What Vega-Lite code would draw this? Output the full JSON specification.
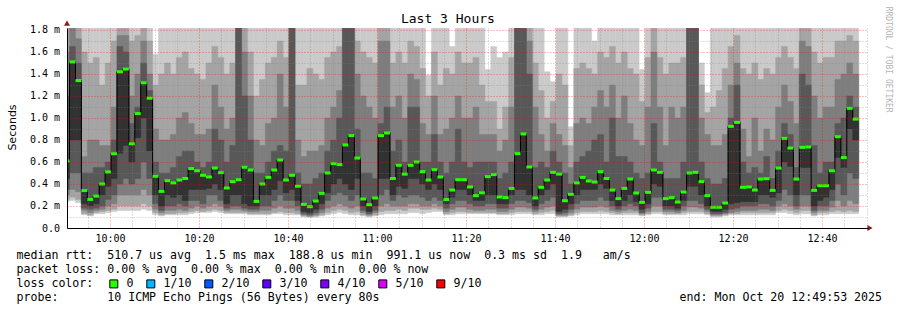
{
"$schema": "https://vega.github.io/schema/vega-lite/v6.json",
"width": 801, "height": 200,
"autosize": {"type": "none"},
"padding": {"left": 67, "top": 28, "right": 29, "bottom": 82},
"background": "white",
"config": {"view": {"stroke": null}, "font": "DejaVu Sans Mono", "axis": {"labelOverlap": false}},
"datasets": {"smoke": [
{"t":"2025-10-20T09:49:34","loss":"0","p1":0.24,"p2":0.26,"p3":0.3,"p4":0.35,"p5":0.45,"m":0.61,"p7":1.2,"p8":1.6,"p9":1.82,"p10":2},
{"t":"2025-10-20T09:50:54","loss":"0","p1":0.25,"p2":0.28,"p3":0.35,"p4":0.5,"p5":0.8,"m":1.51,"p7":1.65,"p8":1.82,"p9":2,"p10":2},
{"t":"2025-10-20T09:52:14","loss":"0","p1":0.23,"p2":0.26,"p3":0.33,"p4":0.5,"p5":0.8,"m":1.34,"p7":1.5,"p8":1.72,"p9":1.82,"p10":2},
{"t":"2025-10-20T09:53:34","loss":"0","p1":0.12,"p2":0.13,"p3":0.16,"p4":0.18,"p5":0.22,"m":0.34,"p7":0.5,"p8":0.65,"p9":1.6,"p10":2},
{"t":"2025-10-20T09:54:54","loss":"0","p1":0.11,"p2":0.12,"p3":0.14,"p4":0.17,"p5":0.2,"m":0.26,"p7":0.5,"p8":0.8,"p9":1.5,"p10":2},
{"t":"2025-10-20T09:56:14","loss":"0","p1":0.13,"p2":0.14,"p3":0.16,"p4":0.18,"p5":0.22,"m":0.29,"p7":0.55,"p8":0.8,"p9":1.55,"p10":2},
{"t":"2025-10-20T09:57:34","loss":"0","p1":0.13,"p2":0.15,"p3":0.17,"p4":0.2,"p5":0.3,"m":0.40,"p7":0.55,"p8":0.75,"p9":1.3,"p10":2},
{"t":"2025-10-20T09:58:54","loss":"0","p1":0.14,"p2":0.16,"p3":0.2,"p4":0.26,"p5":0.38,"m":0.51,"p7":0.6,"p8":0.75,"p9":1.5,"p10":2},
{"t":"2025-10-20T10:00:14","loss":"0","p1":0.15,"p2":0.17,"p3":0.22,"p4":0.3,"p5":0.45,"m":0.675,"p7":0.8,"p8":1.1,"p9":1.7,"p10":2},
{"t":"2025-10-20T10:01:34","loss":"0","p1":0.16,"p2":0.2,"p3":0.3,"p4":0.4,"p5":0.68,"m":1.42,"p7":1.65,"p8":1.75,"p9":1.82,"p10":2},
{"t":"2025-10-20T10:02:54","loss":"0","p1":0.16,"p2":0.2,"p3":0.3,"p4":0.45,"p5":0.75,"m":1.445,"p7":1.6,"p8":1.75,"p9":1.82,"p10":2},
{"t":"2025-10-20T10:04:14","loss":"0","p1":0.16,"p2":0.2,"p3":0.3,"p4":0.4,"p5":0.6,"m":0.766,"p7":0.95,"p8":1.2,"p9":1.7,"p10":2},
{"t":"2025-10-20T10:05:34","loss":"0","p1":0.16,"p2":0.2,"p3":0.3,"p4":0.45,"p5":0.82,"m":1.04,"p7":1.1,"p8":1.4,"p9":1.75,"p10":2},
{"t":"2025-10-20T10:06:54","loss":"0","p1":0.17,"p2":0.22,"p3":0.35,"p4":0.6,"p5":1.0,"m":1.32,"p7":1.5,"p8":1.7,"p9":1.82,"p10":2},
{"t":"2025-10-20T10:08:14","loss":"0","p1":0.16,"p2":0.2,"p3":0.3,"p4":0.45,"p5":0.7,"m":1.18,"p7":1.25,"p8":1.4,"p9":1.7,"p10":2},
{"t":"2025-10-20T10:09:34","loss":"0","p1":0.12,"p2":0.14,"p3":0.17,"p4":0.22,"p5":0.3,"m":0.47,"p7":0.6,"p8":0.9,"p9":1.3,"p10":1.58},
{"t":"2025-10-20T10:10:54","loss":"0","p1":0.11,"p2":0.12,"p3":0.14,"p4":0.16,"p5":0.2,"m":0.333,"p7":0.5,"p8":0.8,"p9":1.4,"p10":2},
{"t":"2025-10-20T10:12:14","loss":"0","p1":0.12,"p2":0.13,"p3":0.16,"p4":0.2,"p5":0.3,"m":0.43,"p7":0.5,"p8":0.8,"p9":1.5,"p10":2},
{"t":"2025-10-20T10:13:34","loss":"0","p1":0.12,"p2":0.13,"p3":0.16,"p4":0.2,"p5":0.28,"m":0.41,"p7":0.55,"p8":0.85,"p9":1.4,"p10":2},
{"t":"2025-10-20T10:14:54","loss":"0","p1":0.12,"p2":0.14,"p3":0.17,"p4":0.22,"p5":0.3,"m":0.436,"p7":0.65,"p8":1.0,"p9":1.55,"p10":2},
{"t":"2025-10-20T10:16:14","loss":"0","p1":0.12,"p2":0.14,"p3":0.16,"p4":0.2,"p5":0.25,"m":0.45,"p7":0.7,"p8":1.05,"p9":1.6,"p10":2},
{"t":"2025-10-20T10:17:34","loss":"0","p1":0.13,"p2":0.15,"p3":0.18,"p4":0.25,"p5":0.35,"m":0.54,"p7":0.7,"p8":0.95,"p9":1.45,"p10":2},
{"t":"2025-10-20T10:18:54","loss":"0","p1":0.14,"p2":0.16,"p3":0.2,"p4":0.25,"p5":0.35,"m":0.52,"p7":0.6,"p8":0.85,"p9":1.4,"p10":2},
{"t":"2025-10-20T10:20:14","loss":"0","p1":0.14,"p2":0.15,"p3":0.18,"p4":0.22,"p5":0.35,"m":0.479,"p7":0.55,"p8":0.85,"p9":1.35,"p10":2},
{"t":"2025-10-20T10:21:34","loss":"0","p1":0.14,"p2":0.16,"p3":0.2,"p4":0.3,"p5":0.36,"m":0.464,"p7":0.6,"p8":0.9,"p9":1.5,"p10":2},
{"t":"2025-10-20T10:22:54","loss":"0","p1":0.15,"p2":0.17,"p3":0.22,"p4":0.3,"p5":0.4,"m":0.545,"p7":0.9,"p8":1.3,"p9":1.65,"p10":2},
{"t":"2025-10-20T10:24:14","loss":"0","p1":0.14,"p2":0.16,"p3":0.2,"p4":0.25,"p5":0.35,"m":0.503,"p7":0.8,"p8":1.1,"p9":1.55,"p10":2},
{"t":"2025-10-20T10:25:34","loss":"0","p1":0.13,"p2":0.14,"p3":0.16,"p4":0.18,"p5":0.22,"m":0.364,"p7":0.6,"p8":0.9,"p9":1.4,"p10":2},
{"t":"2025-10-20T10:26:54","loss":"0","p1":0.13,"p2":0.14,"p3":0.17,"p4":0.2,"p5":0.3,"m":0.421,"p7":0.75,"p8":1.0,"p9":1.5,"p10":2},
{"t":"2025-10-20T10:28:14","loss":"0","p1":0.13,"p2":0.14,"p3":0.17,"p4":0.2,"p5":0.3,"m":0.439,"p7":1.9,"p8":2,"p9":2,"p10":2},
{"t":"2025-10-20T10:29:34","loss":"0","p1":0.13,"p2":0.14,"p3":0.16,"p4":0.18,"p5":0.22,"m":0.552,"p7":1.2,"p8":1.6,"p9":1.82,"p10":2},
{"t":"2025-10-20T10:30:54","loss":"0","p1":0.12,"p2":0.13,"p3":0.15,"p4":0.17,"p5":0.2,"m":0.527,"p7":0.8,"p8":1.2,"p9":1.6,"p10":2},
{"t":"2025-10-20T10:32:14","loss":"0","p1":0.12,"p2":0.13,"p3":0.15,"p4":0.17,"p5":0.2,"m":0.242,"p7":0.5,"p8":0.8,"p9":1.2,"p10":2},
{"t":"2025-10-20T10:33:34","loss":"0","p1":0.12,"p2":0.13,"p3":0.16,"p4":0.2,"p5":0.3,"m":0.40,"p7":0.5,"p8":0.75,"p9":1.35,"p10":2},
{"t":"2025-10-20T10:34:54","loss":"0","p1":0.12,"p2":0.13,"p3":0.16,"p4":0.2,"p5":0.3,"m":0.46,"p7":0.6,"p8":0.95,"p9":1.5,"p10":2},
{"t":"2025-10-20T10:36:14","loss":"0","p1":0.13,"p2":0.14,"p3":0.18,"p4":0.25,"p5":0.35,"m":0.527,"p7":0.7,"p8":1.0,"p9":1.55,"p10":2},
{"t":"2025-10-20T10:37:34","loss":"0","p1":0.13,"p2":0.15,"p3":0.2,"p4":0.3,"p5":0.43,"m":0.618,"p7":0.75,"p8":1.4,"p9":1.7,"p10":2},
{"t":"2025-10-20T10:38:54","loss":"0","p1":0.12,"p2":0.14,"p3":0.18,"p4":0.25,"p5":0.32,"m":0.436,"p7":0.7,"p8":1.1,"p9":1.55,"p10":2},
{"t":"2025-10-20T10:40:14","loss":"0","p1":0.12,"p2":0.14,"p3":0.18,"p4":0.25,"p5":0.35,"m":0.479,"p7":1.9,"p8":2,"p9":2,"p10":2},
{"t":"2025-10-20T10:41:34","loss":"0","p1":0.12,"p2":0.13,"p3":0.16,"p4":0.2,"p5":0.25,"m":0.38,"p7":0.5,"p8":0.8,"p9":1.3,"p10":2},
{"t":"2025-10-20T10:42:54","loss":"0","p1":0.10,"p2":0.11,"p3":0.12,"p4":0.13,"p5":0.15,"m":0.215,"p7":0.4,"p8":0.65,"p9":1.3,"p10":2},
{"t":"2025-10-20T10:44:14","loss":"0","p1":0.10,"p2":0.10,"p3":0.11,"p4":0.12,"p5":0.14,"m":0.194,"p7":0.4,"p8":0.7,"p9":1.45,"p10":2},
{"t":"2025-10-20T10:45:34","loss":"0","p1":0.10,"p2":0.11,"p3":0.12,"p4":0.14,"p5":0.17,"m":0.245,"p7":0.45,"p8":0.7,"p9":1.4,"p10":2},
{"t":"2025-10-20T10:46:54","loss":"0","p1":0.11,"p2":0.12,"p3":0.14,"p4":0.17,"p5":0.22,"m":0.315,"p7":0.5,"p8":0.75,"p9":1.35,"p10":2},
{"t":"2025-10-20T10:48:14","loss":"0","p1":0.12,"p2":0.14,"p3":0.18,"p4":0.25,"p5":0.32,"m":0.50,"p7":0.7,"p8":1.0,"p9":1.55,"p10":2},
{"t":"2025-10-20T10:49:34","loss":"0","p1":0.13,"p2":0.16,"p3":0.2,"p4":0.3,"p5":0.4,"m":0.585,"p7":0.8,"p8":1.1,"p9":1.6,"p10":2},
{"t":"2025-10-20T10:50:54","loss":"0","p1":0.14,"p2":0.17,"p3":0.22,"p4":0.32,"p5":0.45,"m":0.576,"p7":1.0,"p8":1.25,"p9":1.65,"p10":2},
{"t":"2025-10-20T10:52:14","loss":"0","p1":0.13,"p2":0.16,"p3":0.2,"p4":0.3,"p5":0.4,"m":0.755,"p7":2,"p8":2,"p9":2,"p10":2},
{"t":"2025-10-20T10:53:34","loss":"0","p1":0.12,"p2":0.14,"p3":0.18,"p4":0.25,"p5":0.35,"m":0.84,"p7":1.9,"p8":2,"p9":2,"p10":2},
{"t":"2025-10-20T10:54:54","loss":"0","p1":0.12,"p2":0.15,"p3":0.2,"p4":0.3,"p5":0.45,"m":0.636,"p7":0.9,"p8":1.4,"p9":1.7,"p10":2},
{"t":"2025-10-20T10:56:14","loss":"0","p1":0.11,"p2":0.12,"p3":0.14,"p4":0.16,"p5":0.2,"m":0.264,"p7":0.5,"p8":1.2,"p9":1.6,"p10":2},
{"t":"2025-10-20T10:57:34","loss":"0","p1":0.10,"p2":0.11,"p3":0.12,"p4":0.13,"p5":0.15,"m":0.212,"p7":0.5,"p8":1.1,"p9":1.55,"p10":2},
{"t":"2025-10-20T10:58:54","loss":"0","p1":0.11,"p2":0.12,"p3":0.14,"p4":0.16,"p5":0.2,"m":0.273,"p7":0.45,"p8":1.0,"p9":1.5,"p10":2},
{"t":"2025-10-20T11:00:14","loss":"0","p1":0.12,"p2":0.15,"p3":0.2,"p4":0.3,"p5":0.45,"m":0.84,"p7":0.95,"p8":1.7,"p9":1.82,"p10":2},
{"t":"2025-10-20T11:01:34","loss":"0","p1":0.13,"p2":0.16,"p3":0.22,"p4":0.35,"p5":0.45,"m":0.864,"p7":1.1,"p8":1.7,"p9":1.82,"p10":2},
{"t":"2025-10-20T11:02:54","loss":"0","p1":0.13,"p2":0.16,"p3":0.2,"p4":0.25,"p5":0.3,"m":0.45,"p7":0.7,"p8":1.1,"p9":1.5,"p10":2},
{"t":"2025-10-20T11:04:14","loss":"0","p1":0.13,"p2":0.17,"p3":0.2,"p4":0.3,"p5":0.38,"m":0.57,"p7":0.8,"p8":1.2,"p9":1.6,"p10":2},
{"t":"2025-10-20T11:05:34","loss":"0","p1":0.13,"p2":0.16,"p3":0.2,"p4":0.28,"p5":0.36,"m":0.49,"p7":0.6,"p8":1.0,"p9":1.5,"p10":2},
{"t":"2025-10-20T11:06:54","loss":"0","p1":0.14,"p2":0.18,"p3":0.22,"p4":0.3,"p5":0.45,"m":0.57,"p7":1.1,"p8":1.4,"p9":1.7,"p10":2},
{"t":"2025-10-20T11:08:14","loss":"0","p1":0.14,"p2":0.18,"p3":0.22,"p4":0.3,"p5":0.45,"m":0.60,"p7":1.1,"p8":1.35,"p9":1.65,"p10":2},
{"t":"2025-10-20T11:09:34","loss":"0","p1":0.13,"p2":0.17,"p3":0.2,"p4":0.28,"p5":0.4,"m":0.512,"p7":0.6,"p8":0.95,"p9":1.45,"p10":2},
{"t":"2025-10-20T11:10:54","loss":"0","p1":0.14,"p2":0.17,"p3":0.2,"p4":0.25,"p5":0.35,"m":0.436,"p7":0.6,"p8":0.85,"p9":1.2,"p10":1.39},
{"t":"2025-10-20T11:12:14","loss":"0","p1":0.15,"p2":0.18,"p3":0.22,"p4":0.28,"p5":0.4,"m":0.53,"p7":0.85,"p8":1.2,"p9":1.6,"p10":2},
{"t":"2025-10-20T11:13:34","loss":"0","p1":0.15,"p2":0.17,"p3":0.2,"p4":0.25,"p5":0.35,"m":0.464,"p7":0.6,"p8":0.85,"p9":1.3,"p10":1.82},
{"t":"2025-10-20T11:14:54","loss":"0","p1":0.12,"p2":0.13,"p3":0.15,"p4":0.18,"p5":0.22,"m":0.258,"p7":0.5,"p8":0.9,"p9":1.45,"p10":2},
{"t":"2025-10-20T11:16:14","loss":"0","p1":0.12,"p2":0.14,"p3":0.17,"p4":0.22,"p5":0.28,"m":0.345,"p7":0.6,"p8":1.0,"p9":1.4,"p10":1.65},
{"t":"2025-10-20T11:17:34","loss":"0","p1":0.13,"p2":0.15,"p3":0.19,"p4":0.25,"p5":0.35,"m":0.439,"p7":0.9,"p8":1.2,"p9":1.6,"p10":2},
{"t":"2025-10-20T11:18:54","loss":"0","p1":0.13,"p2":0.15,"p3":0.19,"p4":0.25,"p5":0.35,"m":0.439,"p7":0.6,"p8":1.0,"p9":1.5,"p10":2},
{"t":"2025-10-20T11:20:14","loss":"0","p1":0.13,"p2":0.14,"p3":0.17,"p4":0.22,"p5":0.3,"m":0.373,"p7":0.55,"p8":1.0,"p9":1.5,"p10":2},
{"t":"2025-10-20T11:21:34","loss":"0","p1":0.13,"p2":0.14,"p3":0.16,"p4":0.2,"p5":0.25,"m":0.294,"p7":0.6,"p8":1.1,"p9":1.55,"p10":2},
{"t":"2025-10-20T11:22:54","loss":"0","p1":0.13,"p2":0.14,"p3":0.16,"p4":0.2,"p5":0.25,"m":0.32,"p7":0.6,"p8":0.85,"p9":1.3,"p10":2},
{"t":"2025-10-20T11:24:14","loss":"0","p1":0.13,"p2":0.14,"p3":0.17,"p4":0.22,"p5":0.3,"m":0.467,"p7":0.6,"p8":0.85,"p9":1.15,"p10":1.44},
{"t":"2025-10-20T11:25:34","loss":"0","p1":0.13,"p2":0.14,"p3":0.17,"p4":0.22,"p5":0.3,"m":0.485,"p7":0.6,"p8":0.85,"p9":1.15,"p10":1.65},
{"t":"2025-10-20T11:26:54","loss":"0","p1":0.12,"p2":0.13,"p3":0.15,"p4":0.18,"p5":0.22,"m":0.282,"p7":0.45,"p8":0.7,"p9":0.9,"p10":1.55},
{"t":"2025-10-20T11:28:14","loss":"0","p1":0.12,"p2":0.13,"p3":0.15,"p4":0.18,"p5":0.22,"m":0.276,"p7":0.5,"p8":0.8,"p9":1.1,"p10":1.6},
{"t":"2025-10-20T11:29:34","loss":"0","p1":0.12,"p2":0.14,"p3":0.17,"p4":0.22,"p5":0.3,"m":0.36,"p7":0.6,"p8":1.1,"p9":1.55,"p10":2},
{"t":"2025-10-20T11:30:54","loss":"0","p1":0.13,"p2":0.15,"p3":0.19,"p4":0.25,"p5":0.35,"m":0.676,"p7":1.9,"p8":2,"p9":2,"p10":2},
{"t":"2025-10-20T11:32:14","loss":"0","p1":0.13,"p2":0.15,"p3":0.19,"p4":0.25,"p5":0.35,"m":0.855,"p7":1.9,"p8":2,"p9":2,"p10":2},
{"t":"2025-10-20T11:33:34","loss":"0","p1":0.13,"p2":0.15,"p3":0.18,"p4":0.23,"p5":0.3,"m":0.555,"p7":1.4,"p8":1.7,"p9":1.82,"p10":2},
{"t":"2025-10-20T11:34:54","loss":"0","p1":0.12,"p2":0.13,"p3":0.15,"p4":0.17,"p5":0.2,"m":0.273,"p7":0.55,"p8":1.1,"p9":1.5,"p10":2},
{"t":"2025-10-20T11:36:14","loss":"0","p1":0.12,"p2":0.14,"p3":0.17,"p4":0.22,"p5":0.3,"m":0.37,"p7":0.6,"p8":0.85,"p9":1.25,"p10":2},
{"t":"2025-10-20T11:37:34","loss":"0","p1":0.13,"p2":0.15,"p3":0.19,"p4":0.25,"p5":0.35,"m":0.436,"p7":0.55,"p8":0.7,"p9":1.0,"p10":1.42},
{"t":"2025-10-20T11:38:54","loss":"0","p1":0.13,"p2":0.16,"p3":0.2,"p4":0.28,"p5":0.4,"m":0.506,"p7":0.7,"p8":0.95,"p9":1.15,"p10":1.33},
{"t":"2025-10-20T11:40:14","loss":"0","p1":0.10,"p2":0.11,"p3":0.12,"p4":0.13,"p5":0.15,"m":0.49,"p7":0.6,"p8":0.85,"p9":1.4,"p10":2},
{"t":"2025-10-20T11:41:34","loss":"0","p1":0.10,"p2":0.11,"p3":0.12,"p4":0.14,"p5":0.17,"m":0.248,"p7":0.5,"p8":0.75,"p9":1.3,"p10":2},
{"t":"2025-10-20T11:42:54","loss":"0","p1":0.11,"p2":0.12,"p3":0.14,"p4":0.17,"p5":0.22,"m":0.306,"p7":0.4,"p8":0.55,"p9":0.75,"p10":0.92},
{"t":"2025-10-20T11:44:14","loss":"0","p1":0.12,"p2":0.14,"p3":0.17,"p4":0.22,"p5":0.3,"m":0.41,"p7":0.6,"p8":0.95,"p9":1.45,"p10":2},
{"t":"2025-10-20T11:45:34","loss":"0","p1":0.13,"p2":0.15,"p3":0.19,"p4":0.25,"p5":0.35,"m":0.46,"p7":0.65,"p8":1.0,"p9":1.5,"p10":2},
{"t":"2025-10-20T11:46:54","loss":"0","p1":0.13,"p2":0.15,"p3":0.19,"p4":0.25,"p5":0.35,"m":0.427,"p7":0.7,"p8":0.95,"p9":1.45,"p10":2},
{"t":"2025-10-20T11:48:14","loss":"0","p1":0.13,"p2":0.15,"p3":0.19,"p4":0.25,"p5":0.35,"m":0.418,"p7":0.8,"p8":1.1,"p9":1.4,"p10":1.7},
{"t":"2025-10-20T11:49:34","loss":"0","p1":0.13,"p2":0.16,"p3":0.2,"p4":0.28,"p5":0.4,"m":0.512,"p7":0.85,"p8":1.25,"p9":1.6,"p10":2},
{"t":"2025-10-20T11:50:54","loss":"0","p1":0.13,"p2":0.15,"p3":0.19,"p4":0.25,"p5":0.36,"m":0.45,"p7":0.6,"p8":1.1,"p9":1.55,"p10":2},
{"t":"2025-10-20T11:52:14","loss":"0","p1":0.12,"p2":0.14,"p3":0.16,"p4":0.2,"p5":0.25,"m":0.345,"p7":1.0,"p8":1.3,"p9":1.65,"p10":2},
{"t":"2025-10-20T11:53:34","loss":"0","p1":0.12,"p2":0.13,"p3":0.15,"p4":0.17,"p5":0.2,"m":0.267,"p7":0.65,"p8":1.0,"p9":1.5,"p10":2},
{"t":"2025-10-20T11:54:54","loss":"0","p1":0.12,"p2":0.14,"p3":0.16,"p4":0.2,"p5":0.25,"m":0.36,"p7":0.65,"p8":1.2,"p9":1.6,"p10":2},
{"t":"2025-10-20T11:56:14","loss":"0","p1":0.12,"p2":0.14,"p3":0.17,"p4":0.22,"p5":0.3,"m":0.445,"p7":0.6,"p8":0.95,"p9":1.45,"p10":2},
{"t":"2025-10-20T11:57:34","loss":"0","p1":0.12,"p2":0.14,"p3":0.16,"p4":0.2,"p5":0.24,"m":0.318,"p7":0.5,"p8":0.8,"p9":1.4,"p10":2},
{"t":"2025-10-20T11:58:54","loss":"0","p1":0.11,"p2":0.12,"p3":0.13,"p4":0.14,"p5":0.17,"m":0.233,"p7":0.45,"p8":0.75,"p9":1.15,"p10":1.44},
{"t":"2025-10-20T12:00:14","loss":"0","p1":0.12,"p2":0.13,"p3":0.15,"p4":0.18,"p5":0.22,"m":0.324,"p7":0.5,"p8":1.1,"p9":1.55,"p10":2},
{"t":"2025-10-20T12:01:34","loss":"0","p1":0.13,"p2":0.15,"p3":0.2,"p4":0.28,"p5":0.4,"m":0.527,"p7":0.95,"p8":1.6,"p9":1.82,"p10":2},
{"t":"2025-10-20T12:02:54","loss":"0","p1":0.13,"p2":0.15,"p3":0.2,"p4":0.28,"p5":0.38,"m":0.506,"p7":0.6,"p8":1.1,"p9":1.55,"p10":2},
{"t":"2025-10-20T12:04:14","loss":"0","p1":0.12,"p2":0.13,"p3":0.15,"p4":0.17,"p5":0.2,"m":0.267,"p7":0.45,"p8":0.75,"p9":1.4,"p10":2},
{"t":"2025-10-20T12:05:34","loss":"0","p1":0.12,"p2":0.13,"p3":0.15,"p4":0.17,"p5":0.2,"m":0.276,"p7":0.45,"p8":1.1,"p9":1.5,"p10":2},
{"t":"2025-10-20T12:06:54","loss":"0","p1":0.12,"p2":0.13,"p3":0.14,"p4":0.16,"p5":0.18,"m":0.236,"p7":0.45,"p8":1.0,"p9":1.5,"p10":2},
{"t":"2025-10-20T12:08:14","loss":"0","p1":0.12,"p2":0.14,"p3":0.16,"p4":0.2,"p5":0.25,"m":0.327,"p7":0.6,"p8":1.1,"p9":1.55,"p10":2},
{"t":"2025-10-20T12:09:34","loss":"0","p1":0.13,"p2":0.15,"p3":0.19,"p4":0.25,"p5":0.38,"m":0.50,"p7":1.9,"p8":2,"p9":2,"p10":2},
{"t":"2025-10-20T12:10:54","loss":"0","p1":0.13,"p2":0.15,"p3":0.19,"p4":0.25,"p5":0.38,"m":0.506,"p7":1.9,"p8":2,"p9":2,"p10":2},
{"t":"2025-10-20T12:12:14","loss":"0","p1":0.13,"p2":0.15,"p3":0.18,"p4":0.22,"p5":0.3,"m":0.421,"p7":0.6,"p8":1.0,"p9":1.3,"p10":1.5},
{"t":"2025-10-20T12:13:34","loss":"0","p1":0.12,"p2":0.13,"p3":0.15,"p4":0.17,"p5":0.2,"m":0.294,"p7":0.45,"p8":0.85,"p9":1.05,"p10":1.23},
{"t":"2025-10-20T12:14:54","loss":"0","p1":0.10,"p2":0.11,"p3":0.12,"p4":0.13,"p5":0.15,"m":0.188,"p7":0.4,"p8":0.75,"p9":1.1,"p10":2},
{"t":"2025-10-20T12:16:14","loss":"0","p1":0.10,"p2":0.11,"p3":0.12,"p4":0.13,"p5":0.15,"m":0.188,"p7":0.4,"p8":0.75,"p9":1.25,"p10":2},
{"t":"2025-10-20T12:17:34","loss":"0","p1":0.11,"p2":0.12,"p3":0.13,"p4":0.14,"p5":0.17,"m":0.227,"p7":0.45,"p8":0.85,"p9":1.45,"p10":2},
{"t":"2025-10-20T12:18:54","loss":"0","p1":0.12,"p2":0.13,"p3":0.14,"p4":0.17,"p5":0.22,"m":0.924,"p7":1.0,"p8":1.3,"p9":1.65,"p10":2},
{"t":"2025-10-20T12:20:14","loss":"0","p1":0.12,"p2":0.13,"p3":0.15,"p4":0.18,"p5":0.23,"m":0.96,"p7":1.3,"p8":1.5,"p9":1.75,"p10":2},
{"t":"2025-10-20T12:21:34","loss":"0","p1":0.12,"p2":0.14,"p3":0.16,"p4":0.2,"p5":0.24,"m":0.37,"p7":0.6,"p8":0.9,"p9":1.45,"p10":2},
{"t":"2025-10-20T12:22:54","loss":"0","p1":0.12,"p2":0.14,"p3":0.16,"p4":0.2,"p5":0.24,"m":0.373,"p7":0.5,"p8":0.65,"p9":1.4,"p10":2},
{"t":"2025-10-20T12:24:14","loss":"0","p1":0.12,"p2":0.14,"p3":0.16,"p4":0.2,"p5":0.24,"m":0.345,"p7":0.55,"p8":1.0,"p9":1.5,"p10":2},
{"t":"2025-10-20T12:25:34","loss":"0","p1":0.12,"p2":0.14,"p3":0.17,"p4":0.22,"p5":0.3,"m":0.445,"p7":0.5,"p8":0.7,"p9":1.35,"p10":2},
{"t":"2025-10-20T12:26:54","loss":"0","p1":0.12,"p2":0.14,"p3":0.17,"p4":0.22,"p5":0.3,"m":0.448,"p7":0.65,"p8":0.9,"p9":1.45,"p10":2},
{"t":"2025-10-20T12:28:14","loss":"0","p1":0.12,"p2":0.14,"p3":0.16,"p4":0.2,"p5":0.28,"m":0.342,"p7":0.45,"p8":0.8,"p9":1.4,"p10":2},
{"t":"2025-10-20T12:29:34","loss":"0","p1":0.14,"p2":0.16,"p3":0.2,"p4":0.25,"p5":0.32,"m":0.545,"p7":0.7,"p8":1.1,"p9":1.55,"p10":2},
{"t":"2025-10-20T12:30:54","loss":"0","p1":0.14,"p2":0.17,"p3":0.22,"p4":0.35,"p5":0.6,"m":0.815,"p7":0.95,"p8":1.3,"p9":1.65,"p10":2},
{"t":"2025-10-20T12:32:14","loss":"0","p1":0.13,"p2":0.16,"p3":0.2,"p4":0.3,"p5":0.56,"m":0.727,"p7":0.85,"p8":1.15,"p9":1.55,"p10":2},
{"t":"2025-10-20T12:33:34","loss":"0","p1":0.12,"p2":0.14,"p3":0.17,"p4":0.2,"p5":0.3,"m":0.445,"p7":0.55,"p8":0.95,"p9":1.45,"p10":2},
{"t":"2025-10-20T12:34:54","loss":"0","p1":0.13,"p2":0.16,"p3":0.2,"p4":0.3,"p5":0.55,"m":0.733,"p7":1.4,"p8":1.7,"p9":1.82,"p10":2},
{"t":"2025-10-20T12:36:14","loss":"0","p1":0.13,"p2":0.16,"p3":0.2,"p4":0.3,"p5":0.55,"m":0.736,"p7":1.3,"p8":1.65,"p9":1.82,"p10":2},
{"t":"2025-10-20T12:37:34","loss":"0","p1":0.11,"p2":0.12,"p3":0.14,"p4":0.16,"p5":0.2,"m":0.342,"p7":0.75,"p8":1.2,"p9":1.6,"p10":2},
{"t":"2025-10-20T12:38:54","loss":"0","p1":0.12,"p2":0.14,"p3":0.16,"p4":0.2,"p5":0.25,"m":0.385,"p7":0.5,"p8":1.0,"p9":1.5,"p10":2},
{"t":"2025-10-20T12:40:14","loss":"0","p1":0.12,"p2":0.14,"p3":0.16,"p4":0.2,"p5":0.28,"m":0.385,"p7":0.6,"p8":1.1,"p9":1.55,"p10":2},
{"t":"2025-10-20T12:41:34","loss":"0","p1":0.13,"p2":0.15,"p3":0.19,"p4":0.25,"p5":0.35,"m":0.52,"p7":0.6,"p8":1.1,"p9":1.55,"p10":2},
{"t":"2025-10-20T12:42:54","loss":"0","p1":0.13,"p2":0.16,"p3":0.25,"p4":0.4,"p5":0.64,"m":0.83,"p7":0.95,"p8":1.35,"p9":1.7,"p10":2},
{"t":"2025-10-20T12:44:14","loss":"0","p1":0.13,"p2":0.15,"p3":0.2,"p4":0.3,"p5":0.55,"m":0.64,"p7":1.0,"p8":1.4,"p9":1.7,"p10":2},
{"t":"2025-10-20T12:45:34","loss":"0","p1":0.13,"p2":0.16,"p3":0.25,"p4":0.5,"p5":0.9,"m":1.088,"p7":1.2,"p8":1.5,"p9":1.75,"p10":2},
{"t":"2025-10-20T12:46:54","loss":"0","p1":0.13,"p2":0.15,"p3":0.22,"p4":0.45,"p5":0.8,"m":0.99,"p7":1.1,"p8":1.4,"p9":1.7,"p10":2}
]},
"layer": [
{"data": {"name": "smoke"},
 "transform": [{"calculate": "toDate(datum.t) + 80000", "as": "t2"}],
 "layer": [
 {"mark": {"type": "rect", "color": "#cacaca", "stroke": "#cacaca", "strokeWidth": 0.5, "clip": true},
  "encoding": {
   "x": {"field": "t", "type": "temporal",
    "scale": {"domain": [{"year": 2025, "month": 10, "date": 20, "hours": 9, "minutes": 50, "seconds": 20}, {"year": 2025, "month": 10, "date": 20, "hours": 12, "minutes": 50, "seconds": 20}]},
    "axis": {"orient": "bottom", "zindex": 1, "format": "%H:%M", "tickCount": 200,
     "values": [
      {"year": 2025, "month": 10, "date": 20, "hours": 9, "minutes": 55}, {"year": 2025, "month": 10, "date": 20, "hours": 10, "minutes": 0}, {"year": 2025, "month": 10, "date": 20, "hours": 10, "minutes": 5}, {"year": 2025, "month": 10, "date": 20, "hours": 10, "minutes": 10}, {"year": 2025, "month": 10, "date": 20, "hours": 10, "minutes": 15},
      {"year": 2025, "month": 10, "date": 20, "hours": 10, "minutes": 20}, {"year": 2025, "month": 10, "date": 20, "hours": 10, "minutes": 25}, {"year": 2025, "month": 10, "date": 20, "hours": 10, "minutes": 30}, {"year": 2025, "month": 10, "date": 20, "hours": 10, "minutes": 35},
      {"year": 2025, "month": 10, "date": 20, "hours": 10, "minutes": 40}, {"year": 2025, "month": 10, "date": 20, "hours": 10, "minutes": 45}, {"year": 2025, "month": 10, "date": 20, "hours": 10, "minutes": 50}, {"year": 2025, "month": 10, "date": 20, "hours": 10, "minutes": 55},
      {"year": 2025, "month": 10, "date": 20, "hours": 11, "minutes": 0}, {"year": 2025, "month": 10, "date": 20, "hours": 11, "minutes": 5}, {"year": 2025, "month": 10, "date": 20, "hours": 11, "minutes": 10}, {"year": 2025, "month": 10, "date": 20, "hours": 11, "minutes": 15},
      {"year": 2025, "month": 10, "date": 20, "hours": 11, "minutes": 20}, {"year": 2025, "month": 10, "date": 20, "hours": 11, "minutes": 25}, {"year": 2025, "month": 10, "date": 20, "hours": 11, "minutes": 30}, {"year": 2025, "month": 10, "date": 20, "hours": 11, "minutes": 35},
      {"year": 2025, "month": 10, "date": 20, "hours": 11, "minutes": 40}, {"year": 2025, "month": 10, "date": 20, "hours": 11, "minutes": 45}, {"year": 2025, "month": 10, "date": 20, "hours": 11, "minutes": 50}, {"year": 2025, "month": 10, "date": 20, "hours": 11, "minutes": 55},
      {"year": 2025, "month": 10, "date": 20, "hours": 12, "minutes": 0}, {"year": 2025, "month": 10, "date": 20, "hours": 12, "minutes": 5}, {"year": 2025, "month": 10, "date": 20, "hours": 12, "minutes": 10}, {"year": 2025, "month": 10, "date": 20, "hours": 12, "minutes": 15},
      {"year": 2025, "month": 10, "date": 20, "hours": 12, "minutes": 20}, {"year": 2025, "month": 10, "date": 20, "hours": 12, "minutes": 25}, {"year": 2025, "month": 10, "date": 20, "hours": 12, "minutes": 30}, {"year": 2025, "month": 10, "date": 20, "hours": 12, "minutes": 35},
      {"year": 2025, "month": 10, "date": 20, "hours": 12, "minutes": 40}, {"year": 2025, "month": 10, "date": 20, "hours": 12, "minutes": 45}, {"year": 2025, "month": 10, "date": 20, "hours": 12, "minutes": 50}],
     "labelExpr": "minutes(datum.value) % 20 == 0 ? datum.label : ''",
     "labelOverlap": false, "labelFlush": false, "labelBound": false,
     "labelFont": "DejaVu Sans Mono", "labelFontSize": 10, "labelColor": "#000000", "labelPadding": 5,
     "ticks": false, "domainColor": "#000000", "domainWidth": 1,
     "grid": true, "gridDash": [1, 2], "gridWidth": 1, "gridOpacity": 0.5,
     "gridColor": {"condition": {"test": "minutes(datum.value) % 20 == 0", "value": "#ff0000"}, "value": "#808080"},
     "title": ["median\u00a0rtt:\u00a0\u00a0510.7\u00a0us\u00a0avg\u00a0\u00a01.5\u00a0ms\u00a0max\u00a0\u00a0188.8\u00a0us\u00a0min\u00a0\u00a0991.1\u00a0us\u00a0now\u00a0\u00a00.3\u00a0ms\u00a0sd\u00a0\u00a01.9\u00a0\u00a0\u00a0am/s",
               "packet\u00a0loss:\u00a00.00\u00a0%\u00a0avg\u00a0\u00a00.00\u00a0%\u00a0max\u00a0\u00a00.00\u00a0%\u00a0min\u00a0\u00a00.00\u00a0%\u00a0now",
               "loss\u00a0color:",
               "probe:\u00a0\u00a0\u00a0\u00a0\u00a0\u00a0\u00a010\u00a0ICMP\u00a0Echo\u00a0Pings\u00a0(56\u00a0Bytes)\u00a0every\u00a080s\u00a0\u00a0\u00a0\u00a0\u00a0\u00a0\u00a0\u00a0\u00a0\u00a0\u00a0\u00a0\u00a0\u00a0\u00a0\u00a0\u00a0\u00a0\u00a0\u00a0\u00a0\u00a0\u00a0\u00a0\u00a0\u00a0\u00a0\u00a0\u00a0\u00a0\u00a0\u00a0\u00a0\u00a0\u00a0\u00a0\u00a0\u00a0\u00a0\u00a0\u00a0\u00a0\u00a0end:\u00a0Mon\u00a0Oct\u00a020\u00a012:49:53\u00a02025"],
     "titleFont": "DejaVu Sans Mono", "titleFontSize": 11.6, "titleFontWeight": "normal", "titleColor": "#000000",
     "titleAlign": "left", "titleAnchor": "start", "titleBaseline": "alphabetic", "titleLineHeight": 14.2,
     "titleX": -51, "titleY": 30}},
   "x2": {"field": "t2"},
   "y": {"field": "p1", "type": "quantitative",
    "scale": {"domain": [0, 1.818], "nice": false, "zero": true},
    "axis": {"orient": "left", "zindex": 1, "tickCount": 200,
     "values": [0, 0.1, 0.2, 0.3, 0.4, 0.5, 0.6, 0.7, 0.8, 0.9, 1.0, 1.1, 1.2, 1.3, 1.4, 1.5, 1.6, 1.7, 1.8],
     "labelExpr": "round(datum.value * 10) % 2 == 0 ? (datum.value == 0 ? '0.0' : format(datum.value, '.1f') + ' m') : ''",
     "labelFont": "DejaVu Sans Mono", "labelFontSize": 10, "labelColor": "#000000", "labelPadding": 7.5,
     "labelOverlap": false, "labelFlush": false, "labelBound": false,
     "ticks": false, "domainColor": "#000000", "domainWidth": 1,
     "grid": true, "gridDash": [1, 2], "gridWidth": 1, "gridOpacity": 0.5,
     "gridColor": {"condition": {"test": "round(datum.value * 10) % 2 == 0", "value": "#ff0000"}, "value": "#808080"},
     "title": "Seconds", "titleFont": "DejaVu Sans", "titleFontSize": 11, "titleFontWeight": "normal", "titleColor": "#000000",
     "titleAngle": -90, "titleAlign": "center", "titleBaseline": "middle", "titleX": -55, "titleY": 99}},
   "y2": {"field": "p10"}}},
 {"mark": {"type": "rect", "color": "#a4a4a4", "stroke": "#a4a4a4", "strokeWidth": 0.5, "clip": true},
  "encoding": {"x": {"field": "t", "type": "temporal"}, "x2": {"field": "t2"},
   "y": {"field": "p2", "type": "quantitative"}, "y2": {"field": "p9"}}},
 {"mark": {"type": "rect", "color": "#7e7e7e", "stroke": "#7e7e7e", "strokeWidth": 0.5, "clip": true},
  "encoding": {"x": {"field": "t", "type": "temporal"}, "x2": {"field": "t2"},
   "y": {"field": "p3", "type": "quantitative"}, "y2": {"field": "p8"}}},
 {"mark": {"type": "rect", "color": "#585858", "stroke": "#585858", "strokeWidth": 0.5, "clip": true},
  "encoding": {"x": {"field": "t", "type": "temporal"}, "x2": {"field": "t2"},
   "y": {"field": "p4", "type": "quantitative"}, "y2": {"field": "p7"}}},
 {"mark": {"type": "rect", "color": "#323232", "stroke": "#323232", "strokeWidth": 0.5, "clip": true},
  "encoding": {"x": {"field": "t", "type": "temporal"}, "x2": {"field": "t2"},
   "y": {"field": "p5", "type": "quantitative"}, "y2": {"field": "m"}}},
 {"mark": {"type": "line", "interpolate": "step-after", "color": "#000000", "strokeWidth": 1, "clip": true},
  "encoding": {"x": {"field": "t", "type": "temporal"}, "y": {"field": "m", "type": "quantitative"}}},
 {"transform": [{"calculate": "datum.m - 0.0136", "as": "mlo"}, {"calculate": "datum.m + 0.0136", "as": "mhi"}],
  "mark": {"type": "rect", "clip": true},
  "encoding": {"x": {"field": "t", "type": "temporal"}, "x2": {"field": "t2"},
   "y": {"field": "mlo", "type": "quantitative"}, "y2": {"field": "mhi"},
   "color": {"field": "loss", "type": "nominal",
    "scale": {"domain": ["0", "1/10", "2/10", "3/10", "4/10", "5/10", "9/10"], "range": ["#26ff00", "#00b8ff", "#0059ff", "#5e00ff", "#7e00ff", "#dd00ff", "#ff0000"]},
    "legend": {"orient": "none", "legendX": 41, "legendY": 250, "direction": "horizontal", "title": null, "padding": 0,
     "labelFont": "DejaVu Sans Mono", "labelFontSize": 11.6, "labelColor": "#000000", "labelOffset": 7,
     "symbolType": "square", "symbolSize": 64, "symbolStrokeColor": "#000000", "symbolStrokeWidth": 1, "symbolOpacity": 1,
     "columnPadding": 10}}}}
 ]},
{"data": {"values": [{}]},
 "mark": {"type": "point", "shape": "triangle-right", "filled": true, "color": "#8b1c1c", "size": 36, "opacity": 1, "clip": false},
 "encoding": {"x": {"datum": {"year": 2025, "month": 10, "date": 20, "hours": 12, "minutes": 50, "seconds": 47}, "type": "temporal"},
  "y": {"datum": 0, "type": "quantitative"}}},
{"data": {"values": [{}]},
 "mark": {"type": "point", "shape": "triangle-up", "filled": true, "color": "#8b1c1c", "size": 36, "opacity": 1, "clip": false},
 "encoding": {"x": {"datum": {"year": 2025, "month": 10, "date": 20, "hours": 9, "minutes": 50, "seconds": 20}, "type": "temporal"},
  "y": {"datum": 1.862, "type": "quantitative"}}},
{"data": {"values": [{}]},
 "mark": {"type": "text", "font": "DejaVu Sans Mono", "fontSize": 13, "color": "#000000", "align": "center", "baseline": "alphabetic", "clip": false},
 "encoding": {"x": {"datum": {"year": 2025, "month": 10, "date": 20, "hours": 11, "minutes": 15, "seconds": 56}, "type": "temporal"},
  "y": {"datum": 1.862, "type": "quantitative"}, "text": {"value": "Last 3 Hours"}}},
{"data": {"values": [{}]},
 "mark": {"type": "text", "font": "DejaVu Sans Mono", "fontSize": 8, "color": "#b4b4b4", "align": "center", "baseline": "middle", "angle": 90, "clip": false},
 "encoding": {"x": {"datum": {"year": 2025, "month": 10, "date": 20, "hours": 12, "minutes": 54, "seconds": 50}, "type": "temporal"},
  "y": {"datum": 1.53, "type": "quantitative"}, "text": {"value": "RRDTOOL / TOBI OETIKER"}}}
]
}
